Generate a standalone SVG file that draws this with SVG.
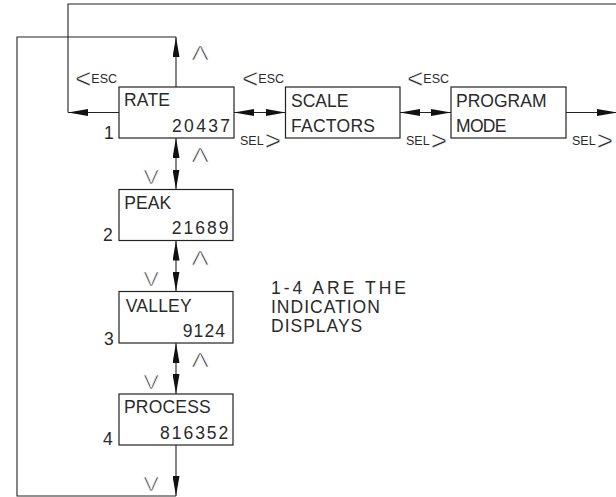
<svg xmlns="http://www.w3.org/2000/svg" width="616" height="497" viewBox="0 0 616 497">
<style>
.bg{fill:#fff}
.box{fill:#fff;stroke:#222;stroke-width:1.2}
.ln{fill:none;stroke:#222;stroke-width:1.1}
.t{font-family:"Liberation Sans",Arial,sans-serif;font-size:17.5px;fill:#2a2a2a}
.s{font-family:"Liberation Sans",Arial,sans-serif;font-size:12.5px;fill:#2a2a2a}
.k{font-family:"Liberation Sans",Arial,sans-serif;font-size:20px;fill:#333;stroke:#fff;stroke-width:0.7}
.ang{font-size:28px;stroke:#fff;stroke-width:0.6}
</style>
<defs>
<marker id="ah" viewBox="0 0 20 7" refX="20" refY="3.5" markerWidth="20" markerHeight="7" markerUnits="userSpaceOnUse" orient="auto-start-reverse">
<path d="M0,0 L20,3.5 L0,7 z" fill="#111"/>
</marker>
</defs>
<rect class="bg" x="0" y="0" width="616" height="497"/>
<g id="connectors">
<path class="ln" d="M68,112.5 V4 H616"/>
<path class="ln" d="M119,112.5 H68" marker-end="url(#ah)"/>
<path class="ln" d="M176,87 V37" marker-end="url(#ah)"/>
<path class="ln" d="M176,37 H17 V496 H176"/>
<path class="ln" d="M234,112.5 H285.5" marker-start="url(#ah)" marker-end="url(#ah)"/>
<path class="ln" d="M400,112.5 H451" marker-start="url(#ah)" marker-end="url(#ah)"/>
<path class="ln" d="M566,112.5 H617" marker-end="url(#ah)"/>
<path class="ln" d="M176,138 V189.5" marker-start="url(#ah)" marker-end="url(#ah)"/>
<path class="ln" d="M176,240.5 V291.5" marker-start="url(#ah)" marker-end="url(#ah)"/>
<path class="ln" d="M176,343 V394" marker-start="url(#ah)" marker-end="url(#ah)"/>
<path class="ln" d="M176,445 V496" marker-end="url(#ah)"/>
</g>
<g id="labels">
<text class="s" x="75" y="83"><tspan class="ang" dy="5">&lt;</tspan><tspan dy="-5">ESC</tspan></text>
<text class="s" x="242" y="83"><tspan class="ang" dy="5">&lt;</tspan><tspan dy="-5">ESC</tspan></text>
<text class="s" x="407" y="83"><tspan class="ang" dy="5">&lt;</tspan><tspan dy="-5">ESC</tspan></text>
<text class="s" x="240" y="145">SEL<tspan class="ang" dx="1" dy="5">&gt;</tspan></text>
<text class="s" x="406" y="145">SEL<tspan class="ang" dx="1" dy="5">&gt;</tspan></text>
<text class="s" x="572" y="145">SEL<tspan class="ang" dx="1" dy="5">&gt;</tspan></text>
<text class="k" transform="translate(191.5,60) scale(1.3,1)">Λ</text>
<text class="k" transform="translate(191.5,162) scale(1.3,1)">Λ</text>
<text class="k" transform="translate(191.5,265) scale(1.3,1)">Λ</text>
<text class="k" transform="translate(191.5,367) scale(1.3,1)">Λ</text>
<text class="k" transform="translate(143.5,184) scale(1.15,1)">V</text>
<text class="k" transform="translate(143.5,286) scale(1.15,1)">V</text>
<text class="k" transform="translate(143.5,389) scale(1.15,1)">V</text>
<text class="k" transform="translate(143.5,491) scale(1.15,1)">V</text>
<text class="t" x="271" y="293.5" textLength="135" lengthAdjust="spacing">1-4 ARE THE</text>
<text class="t" x="271" y="312.5" letter-spacing="1">INDICATION</text>
<text class="t" x="271" y="331.5" letter-spacing="1">DISPLAYS</text>
</g>
<g id="rate">
<rect class="box" x="119" y="87" width="115" height="51"/>
<text class="t" x="124" y="106" textLength="46" lengthAdjust="spacing">RATE</text>
<text class="t" x="172" y="131.5" textLength="58" lengthAdjust="spacing">20437</text>
<text class="t" x="104" y="139">1</text>
</g>
<g id="scale">
<rect class="box" x="285.5" y="87" width="114.5" height="51"/>
<text class="t" x="291" y="106.5" textLength="57.5" lengthAdjust="spacing">SCALE</text>
<text class="t" x="291" y="131.5" textLength="84" lengthAdjust="spacing">FACTORS</text>
</g>
<g id="program">
<rect class="box" x="451" y="87" width="115" height="51"/>
<text class="t" x="456" y="106.5" textLength="90.5" lengthAdjust="spacing">PROGRAM</text>
<text class="t" x="456" y="131.5" textLength="50.5" lengthAdjust="spacing">MODE</text>
</g>
<g id="peak">
<rect class="box" x="119" y="189.5" width="114" height="51"/>
<text class="t" x="124.3" y="209" textLength="47" lengthAdjust="spacing">PEAK</text>
<text class="t" x="171.7" y="234" textLength="56.7" lengthAdjust="spacing">21689</text>
<text class="t" x="103" y="241">2</text>
</g>
<g id="valley">
<rect class="box" x="119" y="291.5" width="114" height="51.5"/>
<text class="t" x="125.7" y="311.5" textLength="66" lengthAdjust="spacing">VALLEY</text>
<text class="t" x="182.7" y="336.5" textLength="42.3" lengthAdjust="spacing">9124</text>
<text class="t" x="104" y="345">3</text>
</g>
<g id="process">
<rect class="box" x="119" y="394" width="114" height="51"/>
<text class="t" x="124" y="413" textLength="86.7" lengthAdjust="spacing">PROCESS</text>
<text class="t" x="160" y="439" textLength="68.3" lengthAdjust="spacing">816352</text>
<text class="t" x="103" y="445">4</text>
</g>
</svg>
